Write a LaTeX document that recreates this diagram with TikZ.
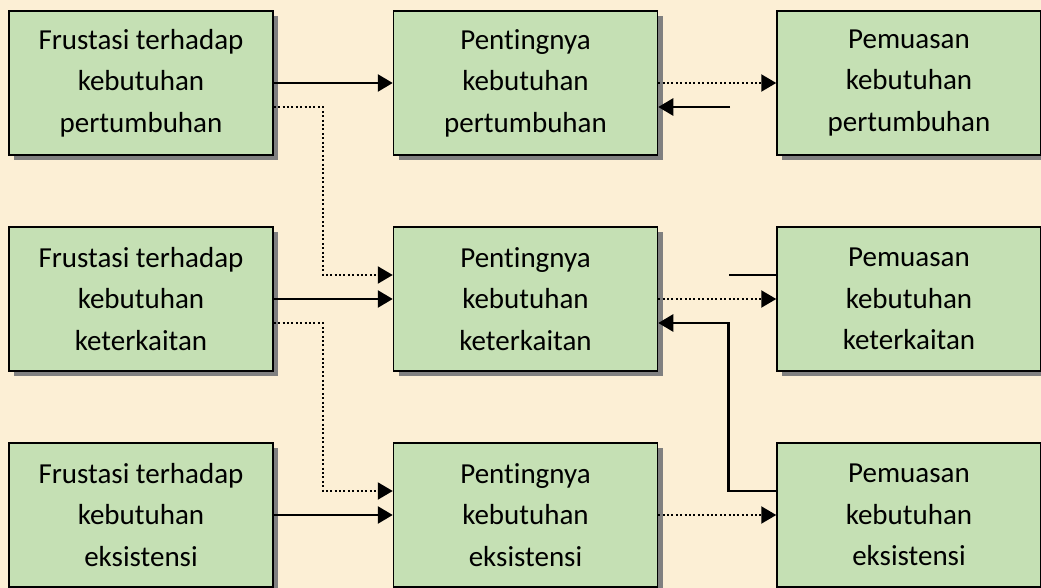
\documentclass[tikz,border=0pt]{standalone}
\usepackage{fontspec}
\setmainfont[Ligatures = NoCommon]{Carlito}
\usetikzlibrary{arrows.meta,shadows}

\definecolor{parchment}{HTML}{FCEFD5}
\definecolor{boxgreen}{HTML}{C5E0B4}

\tikzset{
  needbox/.style = {draw = black, line width = 1.5pt, fill = boxgreen,
    minimum width = 264pt, minimum height = 144pt, inner sep = 0pt,
    align = center, font = \fontsize{29}{41.5}\selectfont,
    drop shadow = {shadow xshift = 5pt, shadow yshift = -5pt,
      fill = black!50, opacity = 1}},
  firmline/.style = {line width = 2.6pt},
  dotline/.style = {line width = 2.2pt, dash pattern = on 2pt off 2.4pt},
  tip/.style = {-{Triangle[length = 15pt, width = 17pt]}}
}

\begin{document}
\begin{tikzpicture}
        [x = 1pt, y = -1pt]

        \fill[parchment] (0,0) rectangle (1041,588);
        \useasboundingbox (0,0) rectangle (1041,588);

        % frustasi
        \node[needbox] (frus1) at (141,83)  {Frustasi terhadap\\kebutuhan\\pertumbuhan};
        \node[needbox] (frus2) at (141,299) {Frustasi terhadap\\kebutuhan\\keterkaitan};
        \node[needbox] (frus3) at (141,515) {Frustasi terhadap\\kebutuhan\\eksistensi};

        % pentingnya
        \node[needbox] (pent1) at (525.5,83)  {Pentingnya\\kebutuhan\\pertumbuhan};
        \node[needbox] (pent2) at (525.5,299) {Pentingnya\\kebutuhan\\keterkaitan};
        \node[needbox] (pent3) at (525.5,515) {Pentingnya\\kebutuhan\\eksistensi};

        % pemuasan
        \node[needbox] (puas1) at (909,83)  {Pemuasan\\kebutuhan\\pertumbuhan};
        \node[needbox] (puas2) at (909,299) {Pemuasan\\kebutuhan\\keterkaitan};
        \node[needbox] (puas3) at (909,515) {Pemuasan\\kebutuhan\\eksistensi};

        \coordinate (loose1) at (730,107);
        \coordinate (loose2) at (729,275);

        \foreach \n in {1,2,3}
        {
          \draw[firmline, tip] (frus\n.east) -- (pent\n.west);
          \draw[dotline, tip] (pent\n.east) -- (puas\n.west);
        }
        \foreach \n [count = \m from 2] in {1,2}
          \draw[dotline, tip] ([yshift = -24pt]frus\n.east) -- ++(49,0)
            |- ([yshift = 24pt]pent\m.west);

        \draw[firmline, tip] (loose1) -- (pent1.east |- loose1);
        \draw[firmline] (loose2) -- (puas2.west |- loose2);
        \draw[firmline, tip] ([yshift = 24pt]puas3.west) -- ++(-48,0)
          |- ([yshift = -24pt]pent2.east);
      \end{tikzpicture}
\end{document}
